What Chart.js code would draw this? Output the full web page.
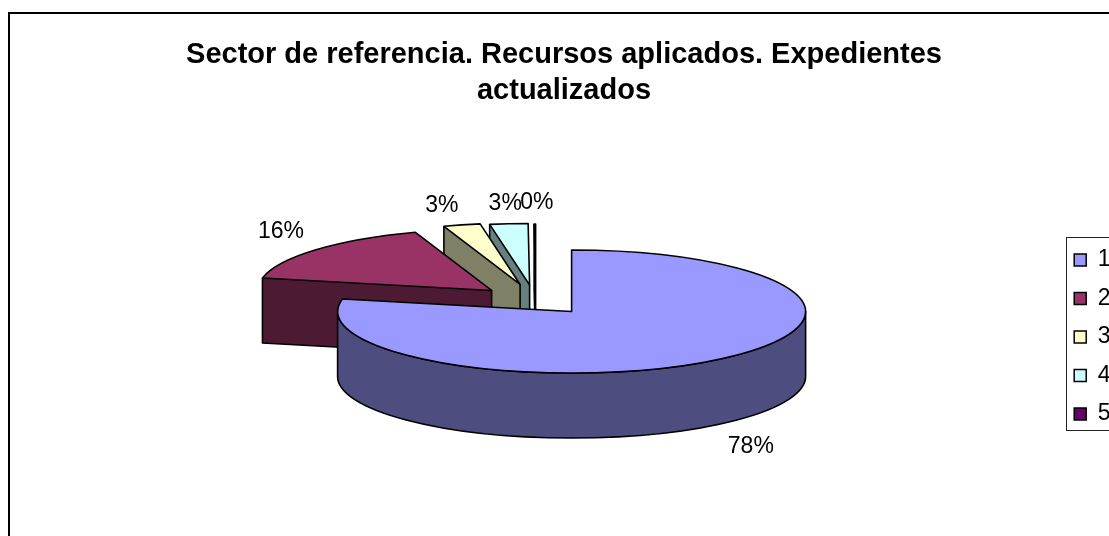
<!DOCTYPE html>
<html lang="es">
<head>
<meta charset="utf-8">
<title>Sector de referencia</title>
<script src="https://cdn.jsdelivr.net/npm/chart.js@4/dist/chart.umd.min.js"></script>
<style>
html,body{margin:0;padding:0;background:#fff;overflow:hidden;width:1109px;height:536px}
#clip{position:absolute;left:0;top:0;width:1109px;height:536px;overflow:hidden}
canvas{display:block}
</style>
</head>
<body>
<div id="clip"><canvas id="c" width="1128" height="565"></canvas></div>
<script>
const categories = ['1', '2', '3', '4', '5'];
const shares = [78.25, 16.47, 2.55, 2.63, 0.1];
const topColors = ['#9999FF', '#993366', '#FFFFCC', '#CCFFFF', '#660066'];
const sideColors = ['#4D4D80', '#4D1A33', '#808066', '#668080', '#330033'];
const titleLines = ['Sector de referencia. Recursos aplicados. Expedientes', 'actualizados'];

// exploded-slice displacement and label nudges of the 3-D view, px
const explodeX = [0, -80, -51.5, -42, -36];
const explodeY = [0, -21, -27, -26.5, -26];
const labelNudgeX = [31.5, -35, -20, -3.6, 2];
const labelNudgeY = [87.6, -18.3, -19.5, -20, -21];
const view = { radiusX: 234, radiusY: 61.5, depth: 65, lift: 25.5, shiftX: 38.5, legendShift: 7.5 };

const FONT = '"Liberation Sans", Arial, sans-serif';

const pie3d = {
  id: 'pie3d',
  afterLayout(chart) {
    chart.legend.left -= view.legendShift;
    chart.legend.right -= view.legendShift;
  },
  beforeDraw(chart) {
    const ctx = chart.ctx, lg = chart.legend, hb = lg.legendHitBoxes;
    ctx.save();
    ctx.fillStyle = '#fff';
    ctx.fillRect(0, 0, chart.width, chart.height);
    ctx.strokeStyle = '#000';
    ctx.lineWidth = 2;
    ctx.strokeRect(9, 13, chart.width + 50, chart.height + 50);
    const t = hb[0].top - 11, b = hb[hb.length - 1].top + hb[hb.length - 1].height + 5;
    ctx.lineWidth = 1;
    ctx.strokeStyle = '#222';
    ctx.strokeRect(Math.round(lg.left + lg.options.labels.padding - 8) + 0.5, Math.round(t) + 0.5, chart.width, Math.round(b - t));
    ctx.restore();
  },
  beforeDatasetsDraw(chart) {
    const ctx = chart.ctx;
    const arcs = chart.getDatasetMeta(0).data;
    const centre = (arc, i) => [arc.x + view.shiftX + explodeX[i], arc.y - view.lift + explodeY[i]];
    const rim = (arc, i, angle) => {
      const c = centre(arc, i);
      return [c[0] + Math.cos(angle) * view.radiusX, c[1] + Math.sin(angle) * view.radiusY];
    };
    const face = (c, p) => {
      ctx.beginPath();
      ctx.moveTo(c[0], c[1]);
      ctx.lineTo(p[0], p[1]);
      ctx.lineTo(p[0], p[1] + view.depth);
      ctx.lineTo(c[0], c[1] + view.depth);
      ctx.closePath();
      ctx.fill();
      ctx.beginPath();
      ctx.moveTo(p[0], p[1]);
      ctx.lineTo(p[0], p[1] + view.depth);
      ctx.lineTo(c[0], c[1] + view.depth);
      ctx.lineTo(c[0], c[1]);
      ctx.stroke();
    };
    ctx.save();
    ctx.lineJoin = 'round';
    ctx.lineWidth = 1.6;
    ctx.strokeStyle = '#000';
    for (let i = arcs.length - 1; i >= 0; i--) {
      const arc = arcs[i];
      const c = centre(arc, i);
      const ps = rim(arc, i, arc.startAngle), pe = rim(arc, i, arc.endAngle);
      // radial faces turned towards the viewer
      ctx.fillStyle = sideColors[i];
      if (Math.sin(arc.startAngle + Math.PI / 2) < -1e-6) face(c, ps);
      if (Math.sin(arc.endAngle + Math.PI / 2) > 1e-6) face(c, pe);
      // front part of the outer wall
      const from = Math.max(arc.startAngle, 0), to = Math.min(arc.endAngle, Math.PI);
      if (from < to) {
        ctx.beginPath();
        ctx.ellipse(c[0], c[1], view.radiusX, view.radiusY, 0, from, to);
        ctx.ellipse(c[0], c[1] + view.depth, view.radiusX, view.radiusY, 0, to, from, true);
        ctx.closePath();
        ctx.fill();
        ctx.stroke();
      }
      // top face
      ctx.beginPath();
      ctx.moveTo(c[0], c[1]);
      ctx.ellipse(c[0], c[1], view.radiusX, view.radiusY, 0, arc.startAngle, arc.endAngle);
      ctx.closePath();
      ctx.fillStyle = topColors[i];
      ctx.fill();
      ctx.stroke();
    }
    // percentage labels
    ctx.fillStyle = '#000';
    ctx.font = '23px ' + FONT;
    ctx.textAlign = 'center';
    ctx.textBaseline = 'middle';
    arcs.forEach((arc, i) => {
      const mid = (arc.startAngle + arc.endAngle) / 2;
      const p = rim(arc, i, mid);
      ctx.fillText(Math.round(shares[i]) + '%', p[0] + labelNudgeX[i], p[1] + labelNudgeY[i]);
    });
    ctx.restore();
    return false;
  }
};

new Chart(document.getElementById('c'), {
  type: 'pie',
  plugins: [pie3d],
  data: {
    labels: categories,
    datasets: [{
      data: shares,
      backgroundColor: topColors,
      borderColor: '#000',
      borderWidth: 1.5
    }]
  },
  options: {
    responsive: false,
    animation: false,
    devicePixelRatio: 1,
    layout: { padding: 0 },
    plugins: {
      tooltip: { enabled: false },
      title: {
        display: true,
        text: titleLines,
        color: '#000',
        font: { family: FONT, size: 29, weight: 'bold', lineHeight: 1.24 },
        padding: { top: 37, bottom: 0 }
      },
      legend: {
        position: 'right',
        fullSize: false,
        labels: {
          color: '#000',
          boxWidth: 12,
          boxHeight: 12,
          padding: 15.5,
          font: { family: FONT, size: 23 }
        }
      }
    }
  }
});
</script>
</body>
</html>
